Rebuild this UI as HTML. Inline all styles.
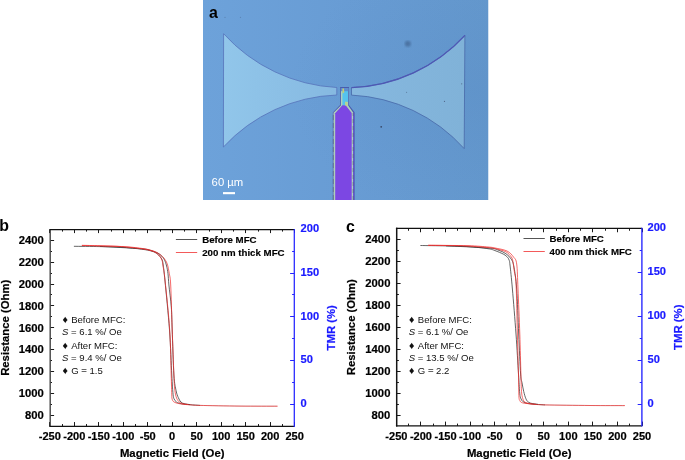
<!DOCTYPE html>
<html><head><meta charset="utf-8"><title>Figure</title>
<style>
html,body{margin:0;padding:0;background:#fff;}
body{width:685px;height:460px;overflow:hidden;position:relative;font-family:"Liberation Sans",sans-serif;}
svg{position:absolute;left:0;top:0;display:block}
text{font-family:"Liberation Sans",sans-serif;}
.b{font-weight:bold}
</style></head><body>
<svg width="685" height="460" viewBox="0 0 685 460">
<defs>
<linearGradient id="bg" x1="0" y1="0" x2="1" y2="0">
<stop offset="0" stop-color="#6da2da"/><stop offset="0.5" stop-color="#689cd4"/><stop offset="1" stop-color="#6498cd"/>
</linearGradient>
<radialGradient id="vg" cx="0.95" cy="0.45" r="0.65">
<stop offset="0" stop-color="#5486c0" stop-opacity="0.24"/><stop offset="1" stop-color="#5486c0" stop-opacity="0"/>
</radialGradient>
<linearGradient id="hl" x1="0" y1="0" x2="1" y2="0">
<stop offset="0" stop-color="#91c6ea"/><stop offset="1" stop-color="#86b9e1"/>
</linearGradient>
<linearGradient id="hr" x1="0" y1="0" x2="1" y2="0">
<stop offset="0" stop-color="#86b8df"/><stop offset="1" stop-color="#80b2d8"/>
</linearGradient>
<filter id="bl"><feGaussianBlur stdDeviation="1.2"/></filter>
<filter id="bs"><feGaussianBlur stdDeviation="0.5"/></filter>
<clipPath id="pc"><rect x="203" y="0" width="285.5" height="200"/></clipPath>
</defs>

<g clip-path="url(#pc)">
<rect x="203" y="0" width="285.5" height="200" fill="url(#bg)"/>
<rect x="203" y="0" width="285.5" height="200" fill="url(#vg)"/>
<g filter="url(#bs)">
<path d="M223.6 33.7 A164 164 0 0 0 336.8 87.5 L336.8 95.0 A162 162 0 0 0 223.4 147.0 Z" fill="url(#hl)" stroke="#5672ba" stroke-width="0.8" stroke-linejoin="miter" stroke-miterlimit="10"/>
<path d="M351.5 87.6 A162 162 0 0 0 464.9 35.4 L464.2 148.6 A161.5 161.5 0 0 0 351.5 95.1 Z" fill="url(#hr)" stroke="#4868a8" stroke-width="0.8" stroke-linejoin="miter" stroke-miterlimit="10"/>
<path d="M351.5 87.6 A162 162 0 0 0 464.9 35.4" fill="none" stroke="#4f58b4" stroke-width="1.4"/>
<path d="M332.8 200 L332.8 112.4 L340.1 105.0 L340.1 87.0 L349.0 87.0 L349.0 105.0 L354.6 112.3 L354.6 200 Z" fill="#4a5cae"/>
<path d="M333.5 200 L333.5 112.8 L340.9 105.4 L340.9 88.0 L348.2 88.0 L348.2 105.4 L353.1 112.5 L353.1 200 Z" fill="#aed0bc"/>
<path d="M353.0 200 L353.0 112.6 L354.3 112.6 L354.3 200 Z" fill="#6656cc"/>
<path d="M333.3 200 V113" stroke="#56607a" stroke-width="0.6" stroke-dasharray="5 3" fill="none"/>
<path d="M353.1 200 V113" stroke="#56607a" stroke-width="0.6" stroke-dasharray="4 3" fill="none"/>
<path d="M335.2 200 L335.2 113.2 L342.6 105.0 L345.4 105.2 L346.4 106.2 L351.7 113 L351.7 200 Z" fill="#7b46e3"/>
<path d="M342.4 88 H348.1 V102 H345 V105.3 H342.4 Z" fill="#55c3ee"/>
<rect x="341.0" y="88" width="7.2" height="3.2" fill="#5f8fd0"/>
<path d="M342.3 88.6 L344.0 88.4 L344.2 92.6 L342.6 93.6 Z" fill="#c6cc74"/>
<path d="M344.9 101.8 L347.4 101.8 L347.6 106.2 L345.4 105.4 Z" fill="#b9d48c"/>
</g>
<circle cx="407.8" cy="43.8" r="3.0" fill="#48709f" opacity="0.9" filter="url(#bl)"/>
<circle cx="381.2" cy="126.8" r="0.9" fill="#35405e" opacity="0.9" filter="url(#bs)"/>
<circle cx="444.5" cy="101.3" r="0.6" fill="#35405e" opacity="0.7" filter="url(#bs)"/>
<circle cx="406.6" cy="92.3" r="0.5" fill="#35405e" opacity="0.6" filter="url(#bs)"/>
<circle cx="461.7" cy="83.8" r="0.6" fill="#35405e" opacity="0.6" filter="url(#bs)"/>
<circle cx="225" cy="17.3" r="0.6" fill="#35405e" opacity="0.35" filter="url(#bs)"/>
<circle cx="240.5" cy="17.3" r="0.6" fill="#35405e" opacity="0.3" filter="url(#bs)"/>
</g>
<text x="209.0" y="18.2" class="b" font-size="15.9" fill="#000">a</text>
<text x="211.6" y="186" font-size="11.3" fill="#fff">60 µm</text>
<rect x="223" y="192.1" width="12" height="2.1" fill="#fff"/>
<text x="-0.7" y="231.2" class="b" font-size="15.9" fill="#000">b</text>
<path d="M73.90 246.30 C78.25 246.35 92.10 246.45 100.00 246.60 C107.90 246.75 114.35 246.77 121.30 247.20 C128.25 247.63 136.58 248.53 141.70 249.20 C146.82 249.87 149.45 250.47 152.00 251.20 C154.55 251.93 155.65 252.70 157.00 253.60 C158.35 254.50 159.23 255.53 160.10 256.60 C160.97 257.67 161.68 258.60 162.20 260.00 C162.72 261.40 162.73 261.50 163.20 265.00 C163.67 268.50 163.95 270.17 165.00 281.00 C166.05 291.83 168.37 314.33 169.50 330.00 C170.63 345.67 171.23 364.60 171.80 375.00 C172.37 385.40 172.55 388.48 172.90 392.40 C173.25 396.32 173.30 396.90 173.90 398.50 C174.50 400.10 175.20 401.12 176.50 402.00 C177.80 402.88 179.45 403.35 181.70 403.80 C183.95 404.25 186.95 404.43 190.00 404.70 C193.05 404.97 198.33 405.28 200.00 405.40" fill="none" stroke="#222" stroke-width="0.7"/>
<path d="M100.00 246.40 C106.95 246.80 133.03 248.05 141.70 248.80 C150.37 249.55 149.28 250.17 152.00 250.90 C154.72 251.63 156.33 252.30 158.00 253.20 C159.67 254.10 160.90 255.17 162.00 256.30 C163.10 257.43 163.83 258.38 164.60 260.00 C165.37 261.62 166.03 263.72 166.60 266.00 C167.17 268.28 167.62 270.53 168.00 273.70 C168.38 276.87 168.35 279.45 168.90 285.00 C169.45 290.55 170.75 299.50 171.30 307.00 C171.85 314.50 171.77 318.67 172.20 330.00 C172.63 341.33 173.25 364.88 173.90 375.00 C174.55 385.12 175.37 386.93 176.10 390.70 C176.83 394.47 177.50 395.72 178.30 397.60 C179.10 399.48 179.90 400.98 180.90 402.00 C181.90 403.02 182.78 403.27 184.30 403.70 C185.82 404.13 189.05 404.45 190.00 404.60" fill="none" stroke="#222" stroke-width="0.7"/>
<path d="M200.00 405.40 C206.67 405.52 227.17 405.97 240.00 406.10 C252.83 406.23 270.83 406.18 277.00 406.20" fill="none" stroke="#222" stroke-width="0.7" stroke-opacity="0.3"/>
<path d="M81.90 245.30 C84.92 245.38 93.43 245.58 100.00 245.80 C106.57 246.02 114.35 246.10 121.30 246.60 C128.25 247.10 136.58 248.07 141.70 248.80 C146.82 249.53 149.45 250.20 152.00 251.00 C154.55 251.80 155.67 252.63 157.00 253.60 C158.33 254.57 159.17 255.70 160.00 256.80 C160.83 257.90 161.50 258.67 162.00 260.20 C162.50 261.73 162.50 262.70 163.00 266.00 C163.50 269.30 163.88 269.33 165.00 280.00 C166.12 290.67 168.67 314.17 169.70 330.00 C170.73 345.83 170.87 364.60 171.20 375.00 C171.53 385.40 171.53 388.35 171.70 392.40 C171.87 396.45 171.68 397.63 172.20 399.30 C172.72 400.97 173.22 401.60 174.80 402.40 C176.38 403.20 179.17 403.70 181.70 404.10 C184.23 404.50 186.95 404.58 190.00 404.80 C193.05 405.02 191.67 405.18 200.00 405.40 C208.33 405.62 227.05 405.97 240.00 406.10 C252.95 406.23 271.42 406.18 277.70 406.20" fill="none" stroke="#f02828" stroke-width="0.7"/>
<path d="M81.90 245.50 C88.47 245.67 111.33 246.02 121.30 246.50 C131.27 246.98 136.58 247.72 141.70 248.40 C146.82 249.08 149.20 249.77 152.00 250.60 C154.80 251.43 156.55 252.17 158.50 253.40 C160.45 254.63 162.25 256.27 163.70 258.00 C165.15 259.73 166.27 261.18 167.20 263.80 C168.13 266.42 168.72 270.17 169.30 273.70 C169.88 277.23 170.22 275.62 170.70 285.00 C171.18 294.38 171.67 315.00 172.20 330.00 C172.73 345.00 173.50 365.33 173.90 375.00 C174.30 384.67 174.23 384.38 174.60 388.00 C174.97 391.62 175.42 394.45 176.10 396.70 C176.78 398.95 177.62 400.35 178.70 401.50 C179.78 402.65 181.05 403.10 182.60 403.60 C184.15 404.10 187.10 404.35 188.00 404.50" fill="none" stroke="#f02828" stroke-width="0.7"/>
<path d="M49.5 426.35 v-4.3 M49.5 229.70 v3.4 M62.5 426.35 v-2.3 M62.5 229.70 v1.9 M74.5 426.35 v-4.3 M74.5 229.70 v3.4 M86.5 426.35 v-2.3 M86.5 229.70 v1.9 M98.5 426.35 v-4.3 M98.5 229.70 v3.4 M111.5 426.35 v-2.3 M111.5 229.70 v1.9 M123.5 426.35 v-4.3 M123.5 229.70 v3.4 M135.5 426.35 v-2.3 M135.5 229.70 v1.9 M147.5 426.35 v-4.3 M147.5 229.70 v3.4 M160.5 426.35 v-2.3 M160.5 229.70 v1.9 M172.5 426.35 v-4.3 M172.5 229.70 v3.4 M184.5 426.35 v-2.3 M184.5 229.70 v1.9 M196.5 426.35 v-4.3 M196.5 229.70 v3.4 M209.5 426.35 v-2.3 M209.5 229.70 v1.9 M221.5 426.35 v-4.3 M221.5 229.70 v3.4 M233.5 426.35 v-2.3 M233.5 229.70 v1.9 M245.5 426.35 v-4.3 M245.5 229.70 v3.4 M258.5 426.35 v-2.3 M258.5 229.70 v1.9 M270.5 426.35 v-4.3 M270.5 229.70 v3.4 M282.5 426.35 v-2.3 M282.5 229.70 v1.9 M294.5 426.35 v-4.3 M294.5 229.70 v3.4 M50.20 415.5 h3.9 M50.20 404.5 h1.8 M50.20 393.5 h3.9 M50.20 382.5 h1.8 M50.20 371.5 h3.9 M50.20 360.5 h1.8 M50.20 349.5 h3.9 M50.20 338.5 h1.8 M50.20 327.5 h3.9 M50.20 316.5 h1.8 M50.20 305.5 h3.9 M50.20 294.5 h1.8 M50.20 284.5 h3.9 M50.20 273.5 h1.8 M50.20 262.5 h3.9 M50.20 251.5 h1.8 M50.20 240.5 h3.9" stroke="#1a1a1a" stroke-width="1" fill="none"/>
<path d="M294.30 404.5 h-4.2 M294.30 382.5 h-2.2 M294.30 360.5 h-4.2 M294.30 338.5 h-2.2 M294.30 316.5 h-4.2 M294.30 294.5 h-2.2 M294.30 273.5 h-4.2 M294.30 251.5 h-2.2 M294.30 229.5 h-4.2" stroke="#2424ff" stroke-width="1" fill="none"/>
<path d="M50.20 229.10 V427.05" stroke="#444" stroke-width="1.4" fill="none"/>
<path d="M49.50 426.35 H294.30" stroke="#111" stroke-width="1.4" fill="none"/>
<path d="M49.50 229.70 H294.30" stroke="#111" stroke-width="1.2" fill="none"/>
<path d="M294.30 229.10 V427.05" stroke="#2424ff" stroke-width="1.25" fill="none"/>
<text x="49.80" y="440.4" class="b" font-size="11.05" text-anchor="middle" fill="#000" stroke="#000" stroke-width="0.2">-250</text>
<text x="74.28" y="440.4" class="b" font-size="11.05" text-anchor="middle" fill="#000" stroke="#000" stroke-width="0.2">-200</text>
<text x="98.76" y="440.4" class="b" font-size="11.05" text-anchor="middle" fill="#000" stroke="#000" stroke-width="0.2">-150</text>
<text x="123.24" y="440.4" class="b" font-size="11.05" text-anchor="middle" fill="#000" stroke="#000" stroke-width="0.2">-100</text>
<text x="147.72" y="440.4" class="b" font-size="11.05" text-anchor="middle" fill="#000" stroke="#000" stroke-width="0.2">-50</text>
<text x="172.20" y="440.4" class="b" font-size="11.05" text-anchor="middle" fill="#000" stroke="#000" stroke-width="0.2">0</text>
<text x="196.68" y="440.4" class="b" font-size="11.05" text-anchor="middle" fill="#000" stroke="#000" stroke-width="0.2">50</text>
<text x="221.16" y="440.4" class="b" font-size="11.05" text-anchor="middle" fill="#000" stroke="#000" stroke-width="0.2">100</text>
<text x="245.64" y="440.4" class="b" font-size="11.05" text-anchor="middle" fill="#000" stroke="#000" stroke-width="0.2">150</text>
<text x="270.12" y="440.4" class="b" font-size="11.05" text-anchor="middle" fill="#000" stroke="#000" stroke-width="0.2">200</text>
<text x="294.60" y="440.4" class="b" font-size="11.05" text-anchor="middle" fill="#000" stroke="#000" stroke-width="0.2">250</text>
<text x="43.8" y="419.10" class="b" font-size="11.25" text-anchor="end" fill="#000" stroke="#000" stroke-width="0.2">800</text>
<text x="43.8" y="397.22" class="b" font-size="11.25" text-anchor="end" fill="#000" stroke="#000" stroke-width="0.2">1000</text>
<text x="43.8" y="375.34" class="b" font-size="11.25" text-anchor="end" fill="#000" stroke="#000" stroke-width="0.2">1200</text>
<text x="43.8" y="353.46" class="b" font-size="11.25" text-anchor="end" fill="#000" stroke="#000" stroke-width="0.2">1400</text>
<text x="43.8" y="331.57" class="b" font-size="11.25" text-anchor="end" fill="#000" stroke="#000" stroke-width="0.2">1600</text>
<text x="43.8" y="309.69" class="b" font-size="11.25" text-anchor="end" fill="#000" stroke="#000" stroke-width="0.2">1800</text>
<text x="43.8" y="287.81" class="b" font-size="11.25" text-anchor="end" fill="#000" stroke="#000" stroke-width="0.2">2000</text>
<text x="43.8" y="265.93" class="b" font-size="11.25" text-anchor="end" fill="#000" stroke="#000" stroke-width="0.2">2200</text>
<text x="43.8" y="244.05" class="b" font-size="11.25" text-anchor="end" fill="#000" stroke="#000" stroke-width="0.2">2400</text>
<text x="300.6" y="407.10" class="b" font-size="11.1" fill="#1a1aff" stroke="#1a1aff" stroke-width="0.2">0</text>
<text x="300.6" y="363.32" class="b" font-size="11.1" fill="#1a1aff" stroke="#1a1aff" stroke-width="0.2">50</text>
<text x="300.6" y="319.55" class="b" font-size="11.1" fill="#1a1aff" stroke="#1a1aff" stroke-width="0.2">100</text>
<text x="300.6" y="275.78" class="b" font-size="11.1" fill="#1a1aff" stroke="#1a1aff" stroke-width="0.2">150</text>
<text x="300.6" y="232.00" class="b" font-size="11.1" fill="#1a1aff" stroke="#1a1aff" stroke-width="0.2">200</text>
<text x="172.2" y="457.2" class="b" font-size="11.35" text-anchor="middle" fill="#000" stroke="#000" stroke-width="0.2">Magnetic Field (Oe)</text>
<text transform="translate(8.7 327.8) rotate(-90)" class="b" font-size="11.3" text-anchor="middle" fill="#000" stroke="#000" stroke-width="0.2">Resistance (Ohm)</text>
<text transform="translate(334.6 327.8) rotate(-90)" class="b" font-size="11.35" text-anchor="middle" fill="#1a1aff" stroke="#1a1aff" stroke-width="0.2">TMR (%)</text>
<path d="M175.9 239.5 h21.3" stroke="#2a2a2a" stroke-width="0.8"/>
<path d="M175.9 252.5 h21.3" stroke="#f03030" stroke-width="0.8"/>
<text x="202.2" y="243.4" class="b" font-size="9.7" fill="#000" stroke="#000" stroke-width="0.15">Before MFC</text>
<text x="202.2" y="256.1" class="b" font-size="9.7" fill="#000" stroke="#000" stroke-width="0.15">200 nm thick MFC</text>
<text y="323.4" font-size="9.55" fill="#111"><tspan x="62.5" font-size="10.7">♦</tspan><tspan x="71.2">Before MFC:</tspan></text>
<text x="62.1" y="335.1" font-size="9.55" fill="#111"><tspan font-style="italic">S</tspan> = 6.1 %/ Oe</text>
<text y="349.2" font-size="9.55" fill="#111"><tspan x="62.5" font-size="10.7">♦</tspan><tspan x="71.2">After MFC:</tspan></text>
<text x="62.1" y="361.0" font-size="9.55" fill="#111"><tspan font-style="italic">S</tspan> = 9.4 %/ Oe</text>
<text y="374.2" font-size="9.55" fill="#111"><tspan x="62.5" font-size="10.7">♦</tspan><tspan x="71.2">G </tspan><tspan fill="#666" font-weight="bold">=</tspan><tspan> 1.5</tspan></text>
<text x="346.0" y="231.6" class="b" font-size="15.9" fill="#000">c</text>
<path d="M420.40 245.50 C424.67 245.57 438.07 245.72 446.00 245.90 C453.93 246.08 461.00 246.13 468.00 246.60 C475.00 247.07 483.50 248.03 488.00 248.70 C492.50 249.37 492.38 249.67 495.00 250.60 C497.62 251.53 501.63 253.20 503.70 254.30 C505.77 255.40 506.50 256.25 507.40 257.20 C508.30 258.15 508.67 258.70 509.10 260.00 C509.53 261.30 509.45 260.17 510.00 265.00 C510.55 269.83 511.40 277.50 512.40 289.00 C513.40 300.50 514.98 319.83 516.00 334.00 C517.02 348.17 517.90 364.43 518.50 374.00 C519.10 383.57 519.25 387.42 519.60 391.40 C519.95 395.38 520.00 396.17 520.60 397.90 C521.20 399.63 521.90 400.85 523.20 401.80 C524.50 402.75 526.27 403.18 528.40 403.60 C530.53 404.02 533.23 404.08 536.00 404.30 C538.77 404.52 543.50 404.80 545.00 404.90" fill="none" stroke="#222" stroke-width="0.7"/>
<path d="M446.00 245.80 C453.00 246.17 479.33 247.30 488.00 248.00 C496.67 248.70 495.02 249.05 498.00 250.00 C500.98 250.95 503.68 252.17 505.90 253.70 C508.12 255.23 509.95 256.93 511.30 259.20 C512.65 261.47 513.10 262.33 514.00 267.30 C514.90 272.27 515.92 277.88 516.70 289.00 C517.48 300.12 518.05 319.83 518.70 334.00 C519.35 348.17 520.05 365.88 520.60 374.00 C521.15 382.12 521.48 379.80 522.00 382.70 C522.52 385.60 523.05 388.73 523.70 391.40 C524.35 394.07 525.10 396.90 525.90 398.70 C526.70 400.50 527.35 401.37 528.50 402.20 C529.65 403.03 531.22 403.33 532.80 403.70 C534.38 404.07 537.13 404.28 538.00 404.40" fill="none" stroke="#222" stroke-width="0.7"/>
<path d="M545.00 404.90 C552.50 405.00 576.83 405.38 590.00 405.50 C603.17 405.62 618.33 405.58 624.00 405.60" fill="none" stroke="#222" stroke-width="0.7" stroke-opacity="0.3"/>
<path d="M428.20 245.30 C431.17 245.33 439.37 245.37 446.00 245.50 C452.63 245.63 461.00 245.75 468.00 246.10 C475.00 246.45 483.50 247.18 488.00 247.60 C492.50 248.02 492.02 247.90 495.00 248.60 C497.98 249.30 503.18 250.40 505.90 251.80 C508.62 253.20 510.13 255.42 511.30 257.00 C512.47 258.58 512.38 258.80 512.90 261.30 C513.42 263.80 513.87 268.05 514.40 272.00 C514.93 275.95 515.60 274.50 516.10 285.00 C516.60 295.50 517.00 320.00 517.40 335.00 C517.80 350.00 518.25 364.88 518.50 375.00 C518.75 385.12 518.68 391.45 518.90 395.70 C519.12 399.95 519.22 399.32 519.80 400.50 C520.38 401.68 520.52 402.23 522.40 402.80 C524.28 403.37 527.33 403.55 531.10 403.90 C534.87 404.25 535.18 404.63 545.00 404.90 C554.82 405.17 576.67 405.38 590.00 405.50 C603.33 405.62 619.17 405.58 625.00 405.60" fill="none" stroke="#f02828" stroke-width="0.7"/>
<path d="M428.20 245.30 C434.83 245.37 458.03 245.42 468.00 245.70 C477.97 245.98 483.50 246.62 488.00 247.00 C492.50 247.38 491.83 247.33 495.00 248.00 C498.17 248.67 503.92 249.50 507.00 251.00 C510.08 252.50 511.88 254.83 513.50 257.00 C515.12 259.17 515.95 258.67 516.70 264.00 C517.45 269.33 517.48 277.33 518.00 289.00 C518.52 300.67 519.32 319.83 519.80 334.00 C520.28 348.17 520.62 364.43 520.90 374.00 C521.18 383.57 521.18 387.28 521.50 391.40 C521.82 395.52 522.22 396.90 522.80 398.70 C523.38 400.50 523.63 401.33 525.00 402.20 C526.37 403.07 529.17 403.55 531.00 403.90 C532.83 404.25 535.17 404.23 536.00 404.30" fill="none" stroke="#f02828" stroke-width="0.7"/>
<path d="M396.5 425.90 v-4.3 M396.5 228.35 v3.9 M408.5 425.90 v-2.3 M408.5 228.35 v2.4 M420.5 425.90 v-4.3 M420.5 228.35 v3.9 M433.5 425.90 v-2.3 M433.5 228.35 v2.4 M445.5 425.90 v-4.3 M445.5 228.35 v3.9 M457.5 425.90 v-2.3 M457.5 228.35 v2.4 M470.5 425.90 v-4.3 M470.5 228.35 v3.9 M482.5 425.90 v-2.3 M482.5 228.35 v2.4 M494.5 425.90 v-4.3 M494.5 228.35 v3.9 M506.5 425.90 v-2.3 M506.5 228.35 v2.4 M519.5 425.90 v-4.3 M519.5 228.35 v3.9 M531.5 425.90 v-2.3 M531.5 228.35 v2.4 M543.5 425.90 v-4.3 M543.5 228.35 v3.9 M556.5 425.90 v-2.3 M556.5 228.35 v2.4 M568.5 425.90 v-4.3 M568.5 228.35 v3.9 M580.5 425.90 v-2.3 M580.5 228.35 v2.4 M592.5 425.90 v-4.3 M592.5 228.35 v3.9 M605.5 425.90 v-2.3 M605.5 228.35 v2.4 M617.5 425.90 v-4.3 M617.5 228.35 v3.9 M629.5 425.90 v-2.3 M629.5 228.35 v2.4 M642.5 425.90 v-4.3 M642.5 228.35 v3.9 M396.70 415.5 h3.9 M396.70 404.5 h2.2 M396.70 393.5 h3.9 M396.70 382.5 h2.2 M396.70 371.5 h3.9 M396.70 360.5 h2.2 M396.70 349.5 h3.9 M396.70 338.5 h2.2 M396.70 327.5 h3.9 M396.70 316.5 h2.2 M396.70 305.5 h3.9 M396.70 294.5 h2.2 M396.70 283.5 h3.9 M396.70 272.5 h2.2 M396.70 261.5 h3.9 M396.70 250.5 h2.2 M396.70 239.5 h3.9" stroke="#1a1a1a" stroke-width="1" fill="none"/>
<path d="M641.90 404.5 h-4.2 M641.90 382.5 h-2.2 M641.90 360.5 h-4.2 M641.90 338.5 h-2.2 M641.90 316.5 h-4.2 M641.90 294.5 h-2.2 M641.90 272.5 h-4.2 M641.90 250.5 h-2.2 M641.90 228.5 h-4.2" stroke="#2424ff" stroke-width="1" fill="none"/>
<path d="M396.70 227.70 V426.55" stroke="#151515" stroke-width="1.5" fill="none"/>
<path d="M395.95 425.90 H641.90" stroke="#111" stroke-width="1.3" fill="none"/>
<path d="M395.95 228.35 H641.90" stroke="#111" stroke-width="1.3" fill="none"/>
<path d="M641.90 227.70 V426.55" stroke="#2424ff" stroke-width="1.35" fill="none"/>
<text x="396.40" y="440.2" class="b" font-size="11.05" text-anchor="middle" fill="#000" stroke="#000" stroke-width="0.2">-250</text>
<text x="420.96" y="440.2" class="b" font-size="11.05" text-anchor="middle" fill="#000" stroke="#000" stroke-width="0.2">-200</text>
<text x="445.52" y="440.2" class="b" font-size="11.05" text-anchor="middle" fill="#000" stroke="#000" stroke-width="0.2">-150</text>
<text x="470.08" y="440.2" class="b" font-size="11.05" text-anchor="middle" fill="#000" stroke="#000" stroke-width="0.2">-100</text>
<text x="494.64" y="440.2" class="b" font-size="11.05" text-anchor="middle" fill="#000" stroke="#000" stroke-width="0.2">-50</text>
<text x="519.20" y="440.2" class="b" font-size="11.05" text-anchor="middle" fill="#000" stroke="#000" stroke-width="0.2">0</text>
<text x="543.76" y="440.2" class="b" font-size="11.05" text-anchor="middle" fill="#000" stroke="#000" stroke-width="0.2">50</text>
<text x="568.32" y="440.2" class="b" font-size="11.05" text-anchor="middle" fill="#000" stroke="#000" stroke-width="0.2">100</text>
<text x="592.88" y="440.2" class="b" font-size="11.05" text-anchor="middle" fill="#000" stroke="#000" stroke-width="0.2">150</text>
<text x="617.44" y="440.2" class="b" font-size="11.05" text-anchor="middle" fill="#000" stroke="#000" stroke-width="0.2">200</text>
<text x="642.00" y="440.2" class="b" font-size="11.05" text-anchor="middle" fill="#000" stroke="#000" stroke-width="0.2">250</text>
<text x="390.4" y="418.90" class="b" font-size="11.25" text-anchor="end" fill="#000" stroke="#000" stroke-width="0.2">800</text>
<text x="390.4" y="396.92" class="b" font-size="11.25" text-anchor="end" fill="#000" stroke="#000" stroke-width="0.2">1000</text>
<text x="390.4" y="374.94" class="b" font-size="11.25" text-anchor="end" fill="#000" stroke="#000" stroke-width="0.2">1200</text>
<text x="390.4" y="352.96" class="b" font-size="11.25" text-anchor="end" fill="#000" stroke="#000" stroke-width="0.2">1400</text>
<text x="390.4" y="330.98" class="b" font-size="11.25" text-anchor="end" fill="#000" stroke="#000" stroke-width="0.2">1600</text>
<text x="390.4" y="308.99" class="b" font-size="11.25" text-anchor="end" fill="#000" stroke="#000" stroke-width="0.2">1800</text>
<text x="390.4" y="287.01" class="b" font-size="11.25" text-anchor="end" fill="#000" stroke="#000" stroke-width="0.2">2000</text>
<text x="390.4" y="265.03" class="b" font-size="11.25" text-anchor="end" fill="#000" stroke="#000" stroke-width="0.2">2200</text>
<text x="390.4" y="243.05" class="b" font-size="11.25" text-anchor="end" fill="#000" stroke="#000" stroke-width="0.2">2400</text>
<text x="647.5" y="406.90" class="b" font-size="11.1" fill="#1a1aff" stroke="#1a1aff" stroke-width="0.2">0</text>
<text x="647.5" y="362.93" class="b" font-size="11.1" fill="#1a1aff" stroke="#1a1aff" stroke-width="0.2">50</text>
<text x="647.5" y="318.95" class="b" font-size="11.1" fill="#1a1aff" stroke="#1a1aff" stroke-width="0.2">100</text>
<text x="647.5" y="274.98" class="b" font-size="11.1" fill="#1a1aff" stroke="#1a1aff" stroke-width="0.2">150</text>
<text x="647.5" y="231.00" class="b" font-size="11.1" fill="#1a1aff" stroke="#1a1aff" stroke-width="0.2">200</text>
<text x="519.2" y="457.0" class="b" font-size="11.35" text-anchor="middle" fill="#000" stroke="#000" stroke-width="0.2">Magnetic Field (Oe)</text>
<text transform="translate(355.3 327.2) rotate(-90)" class="b" font-size="11.3" text-anchor="middle" fill="#000" stroke="#000" stroke-width="0.2">Resistance (Ohm)</text>
<text transform="translate(682.0 327.2) rotate(-90)" class="b" font-size="11.35" text-anchor="middle" fill="#1a1aff" stroke="#1a1aff" stroke-width="0.2">TMR (%)</text>
<path d="M523.5 238.5 h21.3" stroke="#2a2a2a" stroke-width="0.8"/>
<path d="M523.5 251.5 h21.3" stroke="#f03030" stroke-width="0.8"/>
<text x="549.5" y="242.4" class="b" font-size="9.7" fill="#000" stroke="#000" stroke-width="0.15">Before MFC</text>
<text x="549.5" y="255.1" class="b" font-size="9.7" fill="#000" stroke="#000" stroke-width="0.15">400 nm thick MFC</text>
<text y="323.4" font-size="9.55" fill="#111"><tspan x="409.1" font-size="10.7">♦</tspan><tspan x="417.8">Before MFC:</tspan></text>
<text x="408.7" y="335.1" font-size="9.55" fill="#111"><tspan font-style="italic">S</tspan> = 6.1 %/ Oe</text>
<text y="349.2" font-size="9.55" fill="#111"><tspan x="409.1" font-size="10.7">♦</tspan><tspan x="417.8">After MFC:</tspan></text>
<text x="408.7" y="361.0" font-size="9.55" fill="#111"><tspan font-style="italic">S</tspan> = 13.5 %/ Oe</text>
<text y="374.2" font-size="9.55" fill="#111"><tspan x="409.1" font-size="10.7">♦</tspan><tspan x="417.8">G </tspan><tspan fill="#666" font-weight="bold">=</tspan><tspan> 2.2</tspan></text>
</svg></body></html>
